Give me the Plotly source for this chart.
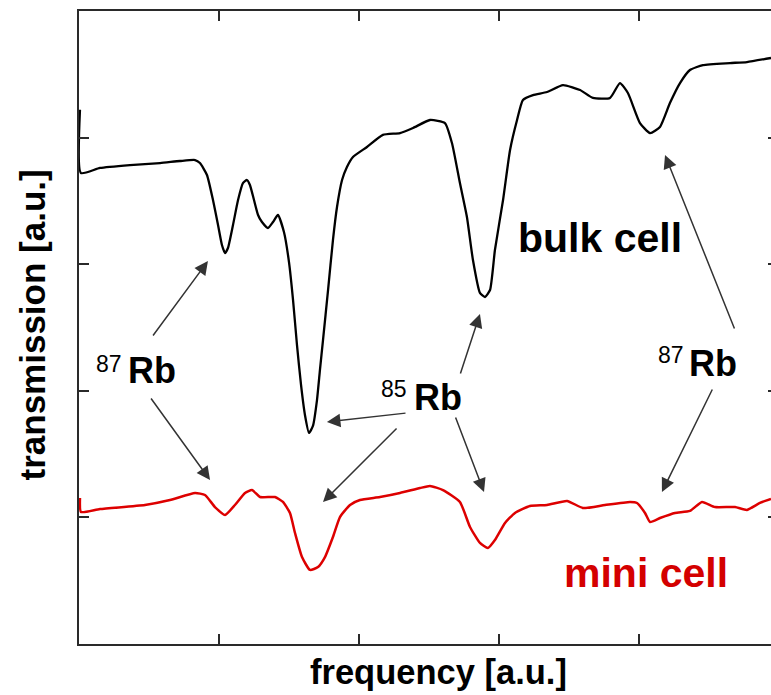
import plotly.graph_objects as go

# ---- data (axis units) ----
bulk_x = [0.007, 0.014, 0.15, 0.364, 0.579, 0.721, 0.829, 0.864, 0.914, 0.957, 0.993, 1.021, 1.043,
          1.064, 1.1, 1.136, 1.171, 1.2, 1.221, 1.25, 1.279, 1.307, 1.35, 1.386, 1.421, 1.464, 1.5,
          1.529, 1.557, 1.586, 1.614, 1.643, 1.671, 1.7, 1.721, 1.743, 1.779, 1.814, 1.843, 1.879,
          1.914, 1.957, 2.057, 2.171, 2.293, 2.386, 2.507, 2.614, 2.664, 2.721, 2.771, 2.814, 2.864,
          2.9, 2.936, 2.971, 3.029, 3.079, 3.129, 3.171, 3.243, 3.343, 3.457, 3.579, 3.671, 3.793,
          3.864, 3.921, 4.007, 4.079, 4.15, 4.221, 4.293, 4.364, 4.457, 4.65, 4.771, 4.943]
bulk_y = [4.22, 3.72, 3.76, 3.783, 3.799, 3.815, 3.823, 3.799, 3.705, 3.507, 3.31, 3.152, 3.088,
          3.128, 3.31, 3.507, 3.641, 3.665, 3.626, 3.507, 3.389, 3.333, 3.286, 3.333, 3.389, 3.254, 3.017,
          2.717, 2.362, 2.046, 1.809, 1.667, 1.722, 1.927, 2.164, 2.401, 2.796, 3.191, 3.452, 3.665,
          3.768, 3.847, 3.926, 4.021, 4.036, 4.076, 4.139, 4.115, 3.957, 3.641, 3.373, 3.033, 2.773,
          2.741, 2.796, 3.112, 3.507, 3.902, 4.139, 4.297, 4.336, 4.36, 4.415, 4.376, 4.313, 4.313,
          4.431, 4.352, 4.115, 4.036, 4.084, 4.273, 4.431, 4.534, 4.573, 4.589, 4.597, 4.629]

mini_x = [0.007, 0.014, 0.15, 0.471, 0.65, 0.829, 0.9, 0.971, 1.043, 1.114, 1.186, 1.236, 1.293,
          1.4, 1.457, 1.507, 1.543, 1.593, 1.65, 1.707, 1.757, 1.814, 1.864, 1.936, 2.007, 2.15,
          2.293, 2.436, 2.507, 2.6, 2.721, 2.793, 2.864, 2.921, 2.971, 3.043, 3.114, 3.221, 3.343,
          3.486, 3.6, 3.757, 3.936, 3.986, 4.043, 4.079, 4.15, 4.257, 4.364, 4.45, 4.543, 4.686,
          4.771, 4.864, 4.943]
mini_y = [1.153, 1.043, 1.066, 1.098, 1.137, 1.193, 1.177, 1.082, 1.019, 1.098, 1.193, 1.216, 1.161,
          1.161, 1.122, 1.035, 0.877, 0.687, 0.585, 0.608, 0.687, 0.845, 1.003, 1.098, 1.137, 1.161,
          1.193, 1.232, 1.248, 1.216, 1.122, 0.924, 0.798, 0.758, 0.821, 0.956, 1.035, 1.09, 1.098,
          1.13, 1.074, 1.098, 1.122, 1.114, 1.035, 0.964, 0.995, 1.035, 1.051, 1.122, 1.082, 1.082,
          1.059, 1.114, 1.145]

tick_vals = [1, 2, 3, 4]

# isotope labels: (mass number, element, x, y_mass, y_element)
iso_labels = [("87", "Rb", 0.321, 0.336, 2.090, 1.986),
              ("85", "Rb", 2.357, 2.379, 1.897, 1.772),
              ("87", "Rb", 4.336, 4.343, 2.161, 2.041)]
# arrows: (tip_x, tip_y, tail_x, tail_y)
arrows = [(0.921, 3.025, 0.521, 2.425),
          (0.936, 1.295, 0.507, 1.951),
          (1.771, 1.754, 2.343, 1.825),
          (1.743, 1.122, 2.279, 1.714),
          (2.864, 2.607, 2.721, 2.125),
          (2.893, 1.201, 2.686, 1.801),
          (4.186, 3.863, 4.686, 2.48),
          (4.164, 1.201, 4.529, 2.022)]

FONT = "Liberation Sans, Arial, sans-serif"
AX = "#2a2a2a"

fig = go.Figure()
fig.add_trace(go.Scatter(x=bulk_x, y=bulk_y, mode="lines",
                         line=dict(color="black", width=2.3, shape="spline", smoothing=0.5),
                         showlegend=False, hoverinfo="skip"))
fig.add_trace(go.Scatter(x=mini_x, y=mini_y, mode="lines",
                         line=dict(color="#dd0000", width=2.5, shape="spline", smoothing=0.5),
                         showlegend=False, hoverinfo="skip"))
fig.add_trace(go.Scatter(x=[], y=[], yaxis="y2", showlegend=False, hoverinfo="skip"))

ann = []
for tx, ty, ax_, ay_ in arrows:
    ann.append(dict(x=tx, y=ty, ax=ax_, ay=ay_, xref="x", yref="y", axref="x", ayref="y",
                    text="", showarrow=True, arrowhead=2, arrowsize=1.8, arrowwidth=1.5,
                    arrowcolor="#333333", standoff=0))
for mass, elem, xm, xe, ym, ye in iso_labels:
    ann.append(dict(x=xm, y=ym, xref="x", yref="y", text=mass, showarrow=False,
                    xanchor="right", yanchor="bottom",
                    font=dict(family=FONT, size=23, color="black")))
    ann.append(dict(x=xe, y=ye, xref="x", yref="y", text=elem, showarrow=False,
                    xanchor="left", yanchor="bottom",
                    font=dict(family=FONT, size=36, color="black", weight=700)))
ann.append(dict(x=3.121, y=3.012, xref="x", yref="y", text="bulk cell", showarrow=False,
                xanchor="left", yanchor="bottom",
                font=dict(family=FONT, size=41, color="black", weight=700)))
ann.append(dict(x=3.45, y=0.366, xref="x", yref="y", text="mini cell", showarrow=False,
                xanchor="left", yanchor="bottom",
                font=dict(family=FONT, size=41, color="#d40000", weight=700)))
ann.append(dict(x=2.571, y=-0.0779, xref="x", yref="paper", text="frequency [a.u.]",
                showarrow=False, xanchor="center", yanchor="bottom",
                font=dict(family=FONT, size=34.5, color="black", weight=700)))
ann.append(dict(x=-0.0361, y=0.504, xref="paper", yref="paper", text="transmission [a.u.]",
                showarrow=False, xanchor="right", yanchor="middle", textangle=-90,
                font=dict(family=FONT, size=35, color="black", weight=700)))

axis_common = dict(showgrid=False, zeroline=False, showticklabels=False, ticks="inside",
                   tickvals=tick_vals, tickcolor=AX, tickwidth=1.5)

fig.update_layout(
    width=771, height=695,
    margin=dict(l=79, r=0, t=11, b=51, pad=0),
    paper_bgcolor="white", plot_bgcolor="white",
    xaxis=dict(range=[0, 4.943], showline=True, linewidth=2, linecolor=AX, mirror="ticks",
               ticklen=10, **axis_common),
    yaxis=dict(range=[0, 5], showline=True, linewidth=2, linecolor=AX, mirror=False,
               ticklen=10, **axis_common),
    yaxis2=dict(range=[0, 5], overlaying="y", side="right", showline=False, ticklen=3,
                **axis_common),
    annotations=ann,
    showlegend=False,
)

fig.write_html("out.html")
